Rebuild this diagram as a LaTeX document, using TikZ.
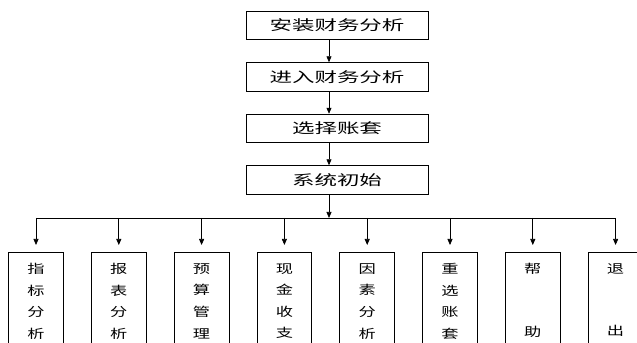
\documentclass[tikz,border=0pt]{standalone}
\usepackage{fontspec}
\newfontfamily\cjk[FakeStretch=1.6]{Noto Sans CJK SC}
\newfontfamily\cjksub[FakeStretch=1.4]{Noto Sans CJK SC}
\usetikzlibrary{arrows.meta}
\tikzset{
  topbox/.style={draw, line width=0.7pt, minimum width=5.46cm, minimum height=0.86cm,
    inner sep=0pt, font=\cjk\fontsize{12}{14}\selectfont},
  subbox/.style={draw, line width=0.7pt, anchor=north, text width=1.64cm, inner xsep=0pt,
    inner ysep=9.5pt, align=center, font=\cjksub\fontsize{10.5}{18.4}\selectfont},
  arr/.style={-{Triangle[length=1.8mm,width=1.5mm]}, line width=0.6pt},
}
\begin{document}
\begin{tikzpicture}[x=0.03cm, y=-0.03cm]
\clip (0,0) rectangle (637,343);
% main chain
\node[topbox] (install) at (337,25.5) {安装财务分析};
\node[topbox] (enter)   at (337,77)   {进入财务分析};
\node[topbox] (choose)  at (337,128.5) {选择账套};
\node[topbox] (init)    at (337,180)  {系统初始};
\foreach \a/\b in {install/enter, enter/choose, choose/init}
  \draw[arr] ([xshift=-0.24cm]\a.south) -- ([xshift=-0.24cm]\b.north);
% modules
\coordinate (bus) at (0,218);
\foreach \txt [count=\i] in {{指\\标\\分\\析}, {报\\表\\分\\析}, {预\\算\\管\\理},
    {现\\金\\收\\支}, {因\\素\\分\\析}, {重\\选\\账\\套}, {帮\\[35pt]助}, {退\\[35pt]出}}
  \node[subbox] (m\i) at ({36+82.8*(\i-1)},252) {\txt};
\coordinate (drop) at ([xshift=-0.24cm]init.south);
\draw[arr] (drop) -- (drop |- bus);
\draw[line width=0.6pt] (m1.north |- bus) -- (m8.north |- bus);
\foreach \i in {1,...,8}
  \draw[arr] (m\i.north |- bus) -- ([yshift=0.21cm]m\i.north);
\end{tikzpicture}
\end{document}
